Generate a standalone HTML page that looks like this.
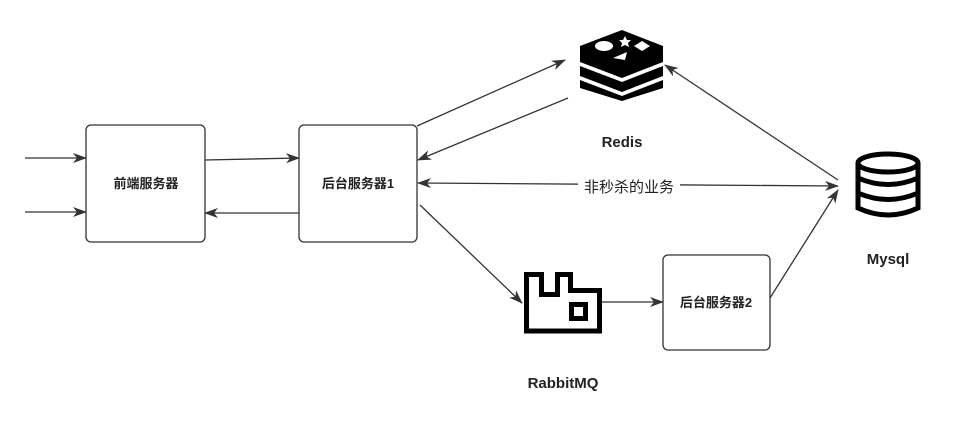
<!DOCTYPE html>
<html><head><meta charset="utf-8"><style>
body{margin:0;background:#fff;}
svg{display:block;font-family:"Liberation Sans","Noto Sans CJK SC",sans-serif;}
</style></head><body>
<svg width="976" height="429" viewBox="0 0 976 429">
<defs><marker id="a" markerWidth="14" markerHeight="14" refX="13" refY="7" orient="auto" markerUnits="userSpaceOnUse"><path d="M0,2 L14,7 L0,12 L4,7 Z" fill="#333"/></marker>
<marker id="b" markerWidth="14" markerHeight="14" refX="1" refY="7" orient="auto" markerUnits="userSpaceOnUse"><path d="M14,2 L0,7 L14,12 L10,7 Z" fill="#333"/></marker></defs>
<g fill="#fff" stroke="#333" stroke-width="1.3">
<rect x="86" y="125" width="119" height="117" rx="5"/>
<rect x="299" y="125" width="118" height="117" rx="5"/>
<rect x="663" y="255" width="107" height="95" rx="5"/>
</g>
<g font-size="13" font-weight="bold" fill="#222" text-anchor="middle">
<text x="146" y="188">前端服务器</text>
<text x="358" y="188">后台服务器1</text>
<text x="716" y="307">后台服务器2</text>
<text x="622" y="147" font-size="15">Redis</text>
<text x="888" y="264" font-size="15">Mysql</text>
<text x="563" y="388" font-size="15">RabbitMQ</text>
</g>
<g stroke="#333" stroke-width="1.3" fill="none">
<line x1="25" y1="158" x2="86" y2="158" marker-end="url(#a)"/>
<line x1="25" y1="212" x2="86" y2="212" marker-end="url(#a)"/>
<line x1="205" y1="160" x2="299" y2="158" marker-end="url(#a)"/>
<line x1="299" y1="213" x2="205" y2="213" marker-end="url(#a)"/>
<line x1="417" y1="126" x2="565" y2="60" marker-end="url(#a)"/>
<line x1="568" y1="98" x2="418" y2="160" marker-end="url(#a)"/>
<line x1="418" y1="183" x2="838" y2="186" marker-start="url(#b)" marker-end="url(#a)"/>
<line x1="420" y1="205" x2="522" y2="303" marker-end="url(#a)"/>
<line x1="602" y1="302" x2="663" y2="302" marker-end="url(#a)"/>
<line x1="770" y1="298" x2="838" y2="190" marker-end="url(#a)"/>
<line x1="838" y1="180" x2="665" y2="65" marker-end="url(#a)"/>
</g>
<rect x="578" y="175" width="102" height="22" fill="#fff"/>
<text x="629" y="192" font-size="15" fill="#222" text-anchor="middle">非秒杀的业务</text>
<!-- Redis icon -->
<g fill="#000">
<path d="M622,30 L663,46 L663,62 L622,78 L580,62 L580,46 Z"/>
<path d="M580,66 L622,82 L663,66 L663,76 L622,92 L580,76 Z"/>
<path d="M580,80 L622,96 L663,80 L663,88 L622,101 L580,88 Z"/>
</g>
<g fill="#fff">
<ellipse cx="604" cy="46" rx="9" ry="5"/>
<path d="M625,36 l2,4 4,0 -3,3 1,4 -4,-2 -4,2 1,-4 -3,-3 4,0 Z"/>
<path d="M642,41 L650,46 L642,51 L634,46 Z"/>
<path d="M613,58 L627,52 L625,60 Z"/>
</g>
<!-- RabbitMQ icon -->
<path d="M526.5,331 L526.5,274.5 L541.5,274.5 L541.5,294.5 L557.5,294.5 L557.5,274.5 L570.5,274.5 L570.5,290.5 L599.5,290.5 L599.5,331 Z" fill="none" stroke="#000" stroke-width="5"/>
<rect x="571.5" y="304.5" width="14" height="14" fill="none" stroke="#000" stroke-width="5"/>
<!-- Mysql icon -->
<g fill="none" stroke="#000" stroke-width="5">
<ellipse cx="888" cy="163" rx="30" ry="9"/>
<path d="M858,163 L858,208 Q888,222 918,208 L918,163"/>
<path d="M858,178 Q888,191 918,178"/>
<path d="M858,193 Q888,206 918,193"/>
</g>
</svg>
</body></html>
